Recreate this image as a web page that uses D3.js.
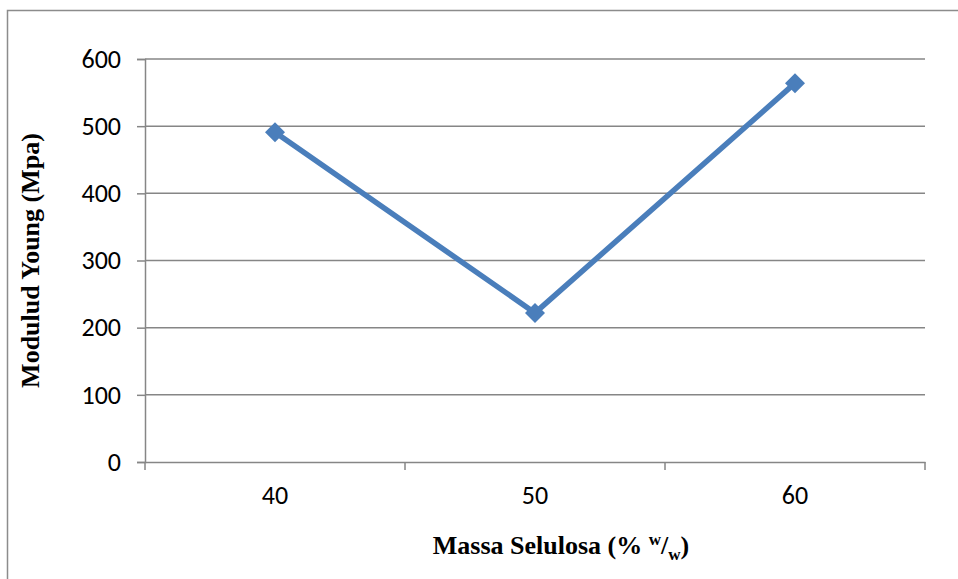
<!DOCTYPE html>
<html>
<head>
<meta charset="utf-8">
<script src="https://cdn.jsdelivr.net/npm/d3@7"></script>
<style>
  body { margin: 0; background: #fff; }
  svg { display: block; }
</style>
</head>
<body>
<div id="chart"></div>
<script>
// data
var categories = ["40", "50", "60"];
var youngValues = [491, 222, 564];
var yTicks = [0, 100, 200, 300, 400, 500, 600];

var width = 958, height = 579;
var margin = {left: 145, top: 59, right: 33, bottom: 117};
var plotW = width - margin.left - margin.right;
var plotH = height - margin.top - margin.bottom;

var svg = d3.select("#chart").append("svg")
	.attr("width", width)
	.attr("height", height);

// outer chart border
svg.append("rect")
	.attr("x", 7.5).attr("y", 10.5)
	.attr("width", 960).attr("height", 600)
	.attr("fill", "none")
	.attr("stroke", "#8c8c8c")
	.attr("stroke-width", 1.5);

var x = d3.scaleBand().domain(categories).range([0, plotW]);
var y = d3.scaleLinear().domain([0, 600]).range([plotH, 0]);

var g = svg.append("g").attr("transform", "translate(" + margin.left + "," + margin.top + ")");

// gridlines
g.selectAll("line.grid")
	.data(yTicks.filter(function (d) { return d > 0; }))
	.enter().append("line")
	.attr("class", "grid")
	.attr("x1", 0).attr("x2", plotW)
	.attr("y1", function (d) { return y(d); })
	.attr("y2", function (d) { return y(d); })
	.attr("stroke", "#868686")
	.attr("stroke-width", 1.5);

// y axis
var yAxis = g.append("g")
	.call(d3.axisLeft(y).tickValues(yTicks).tickSize(8).tickPadding(16));
// x axis
var xTickPos = [0].concat(categories.map(function (c) { return x(c) + x.bandwidth(); }));
var xAxis = g.append("g")
	.attr("transform", "translate(0," + plotH + ")")
	.call(d3.axisBottom(x).tickSize(0).tickPadding(24));
xAxis.selectAll(".tickmark")
	.data(xTickPos)
	.enter().append("line")
	.attr("class", "tickmark")
	.attr("x1", function (d) { return d; }).attr("x2", function (d) { return d; })
	.attr("y1", 0).attr("y2", 8)
	.attr("stroke", "#868686").attr("stroke-width", 1.5);

[yAxis, xAxis].forEach(function (ax) {
	ax.select(".domain").attr("stroke", "#868686").attr("stroke-width", 1.5);
	ax.selectAll(".tick line").attr("stroke", "#868686").attr("stroke-width", 1.5);
	ax.selectAll("text")
		.attr("font-family", "Carlito, 'Open Sans', 'Liberation Sans', sans-serif")
		.attr("font-size", 26)
		.attr("fill", "#000");
});

// series line
var line = d3.line()
	.x(function (d, i) { return x(categories[i]) + x.bandwidth() / 2; })
	.y(function (d) { return y(d); });

g.append("path")
	.datum(youngValues)
	.attr("d", line)
	.attr("fill", "none")
	.attr("stroke", "#4a7ebb")
	.attr("stroke-width", 5.5)
	.attr("stroke-linejoin", "round");

g.selectAll("path.marker")
	.data(youngValues)
	.enter().append("path")
	.attr("class", "marker")
	.attr("d", d3.symbol().type(d3.symbolSquare).size(200))
	.attr("transform", function (d, i) {
		return "translate(" + (x(categories[i]) + x.bandwidth() / 2) + "," + y(d) + ") rotate(45)";
	})
	.attr("fill", "#4a7ebb");

// axis titles
svg.append("text")
	.attr("transform", "translate(30," + (margin.top + plotH / 2) + ") rotate(-90)")
	.attr("text-anchor", "middle")
	.attr("dominant-baseline", "central")
	.attr("font-family", "'Liberation Serif', 'Times New Roman', serif")
	.attr("font-weight", "bold")
	.attr("font-size", 26)
	.text("Modulud Young (Mpa)");

var xt = svg.append("text")
	.attr("x", 561)
	.attr("y", 554)
	.attr("text-anchor", "middle")
	.attr("font-family", "'Liberation Serif', 'Times New Roman', serif")
	.attr("font-weight", "bold")
	.attr("font-size", 26);
xt.append("tspan").text("Massa Selulosa (% ");
xt.append("tspan").attr("font-size", 17).attr("dy", -9).text("w");
xt.append("tspan").attr("dy", 9).text("/");
xt.append("tspan").attr("font-size", 17).attr("dy", 6).text("w");
xt.append("tspan").attr("dy", -6).text(")");
</script>
</body>
</html>
